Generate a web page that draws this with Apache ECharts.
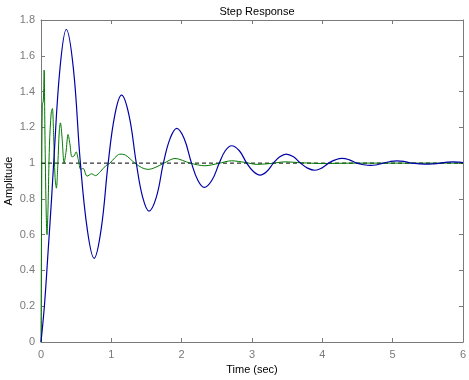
<!DOCTYPE html>
<html>
<head>
<meta charset="utf-8">
<script src="https://cdn.jsdelivr.net/npm/echarts@6/dist/echarts.min.js"></script>
<style>html,body{margin:0;padding:0;background:#fff}#c{width:469px;height:380px}</style>
</head>
<body>
<div id="c"></div>
<script>
var blueT = [0,0.005,0.05,0.1,0.15,0.18,0.27,0.36,0.46,0.56,0.66,0.755,0.855,0.955,1.05,1.145,1.25,1.355,1.445,1.535,1.64,1.74,1.835,1.93,2.035,2.14,2.23,2.32,2.43,2.535,2.62,2.71,2.82,2.925,3.02,3.115,3.21,3.305,3.395,3.485,3.59,3.69,3.79,3.895,3.99,4.09,4.185,4.28,4.385,4.49,4.585,4.68,4.78,4.87,4.965,5.06,5.165,5.27,5.38,5.49,5.58,5.68,5.775,5.87,5.95,6.0];
var blueY = [0,0,0.21,0.5,0.8,1.0,1.53,1.747,1.53,1.0,0.624,0.468,0.63,1.0,1.27,1.38,1.27,1.0,0.81,0.732,0.81,1.0,1.137,1.194,1.137,1.0,0.904,0.864,0.904,1.0,1.069,1.097,1.069,1.0,0.953,0.933,0.953,1.0,1.035,1.05,1.035,1.0,0.972,0.96,0.972,1.0,1.018,1.026,1.018,1.0,0.991,0.987,0.991,1.0,1.009,1.013,1.009,1.0,0.996,0.994,0.996,1.0,1.005,1.007,1.005,1.003];
var greenT = [0,0.008,0.018,0.03,0.038,0.045,0.055,0.07,0.085,0.1,0.12,0.145,0.162,0.18,0.2,0.219,0.24,0.26,0.276,0.3,0.328,0.355,0.385,0.41,0.44,0.47,0.5,0.53,0.565,0.6,0.655,0.72,0.775,0.85,0.92,0.98,1.05,1.12,1.2,1.335,1.43,1.525,1.62,1.74,1.905,2.12,2.33,2.52,2.71,2.9,3.07,3.27,3.47,3.7,4,4.5,5,5.5,6];
var greenY = [0,0.7,1.33,1.34,1.4,1.52,1.2,0.8,0.6,0.75,1.1,1.28,1.305,1.15,0.92,0.86,1.0,1.18,1.225,1.14,1.0,1.06,1.16,1.11,1.035,1.04,1.063,1.02,0.965,0.97,0.927,0.94,0.93,0.955,0.985,1.0,1.03,1.05,1.045,1.0,0.975,0.965,0.975,0.998,1.026,1.0,0.985,0.998,1.013,1.004,0.993,0.998,1.007,1.002,0.998,1.0,1.0,1.0,1.0];
var refT = [0,6];
var refY = [1,1];
var xTicks = [0,1,2,3,4,5,6];
var yTicks = [0,0.2,0.4,0.6,0.8,1,1.2,1.4,1.6,1.8];

function pairs(t,y){return t.map(function(v,i){return [v,y[i]];});}
var FONT = 'Liberation Sans, Arial, sans-serif';
var gray = '#7a7a7a';
var axisCommon = {
  axisLine:{show:true,onZero:false,lineStyle:{color:gray,width:1}},
  axisTick:{show:true,inside:true,length:4,lineStyle:{color:gray}},
  splitLine:{show:false}
};
var chart = echarts.init(document.getElementById('c'),null,{renderer:'canvas'});
chart.setOption({
  animation:false,
  backgroundColor:'#fff',
  title:{text:'Step Response',left:252,textAlign:'center',top:1,textStyle:{fontFamily:FONT,fontSize:11,fontWeight:'normal',color:'#000'}},
  grid:{left:41,right:6,top:20,bottom:38,show:false,containLabel:false,outerBoundsMode:'none'},
  xAxis:[
    Object.assign({type:'value',min:0,max:6,interval:1,position:'bottom',
      name:'Time (sec)',nameLocation:'middle',nameGap:22,nameMoveOverlap:false,
      nameTextStyle:{fontFamily:FONT,fontSize:11,color:'#000'},
      axisLabel:{fontFamily:FONT,fontSize:11,color:gray,margin:7}},axisCommon),
    Object.assign({type:'value',min:0,max:6,interval:1,position:'top',axisLabel:{show:false}},axisCommon)
  ],
  yAxis:[
    Object.assign({type:'value',min:0,max:1.8,interval:0.2,position:'left',
      name:'Amplitude',nameLocation:'middle',nameGap:27,nameRotate:90,nameMoveOverlap:false,
      nameTextStyle:{fontFamily:FONT,fontSize:11,color:'#000'},
      axisLabel:{fontFamily:FONT,fontSize:11,color:gray,margin:6}},axisCommon),
    Object.assign({type:'value',min:0,max:1.8,interval:0.2,position:'right',axisLabel:{show:false}},axisCommon)
  ],
  series:[
    {type:'line',data:pairs(refT,refY),symbol:'none',lineStyle:{color:'#000',width:1,type:[4,3]},z:1},
    {type:'line',data:pairs(greenT,greenY),symbol:'none',smooth:0.3,lineStyle:{color:'#007800',width:1},z:2},
    {type:'line',data:pairs(blueT,blueY),symbol:'none',smooth:0.4,lineStyle:{color:'#0000A8',width:1.2},z:3}
  ]
});
</script>
</body>
</html>
